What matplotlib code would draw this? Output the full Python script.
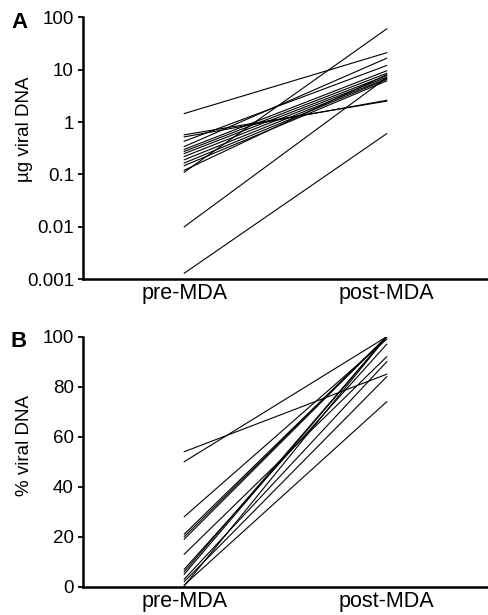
import matplotlib.pyplot as plt

plt.rcParams['font.family'] = ['Liberation Sans', 'DejaVu Sans']

groups = ['pre-MDA', 'post-MDA']

# panel A: ug viral DNA, pre and post, one pair per sample
ug_pre = [1.45, 0.57, 0.52, 0.43, 0.34, 0.30, 0.275, 0.25, 0.22, 0.19,
          0.165, 0.147, 0.12, 0.11, 0.01, 0.0013]
ug_post = [21, 2.5, 2.6, 12, 16.5, 9.5, 8.5, 7.7, 7.2, 6.8,
           6.5, 6.1, 8.0, 60, 7.0, 0.6]
ug_ticks = [0.001, 0.01, 0.1, 1, 10, 100]
ug_labels = ['0.001', '0.01', '0.1', '1', '10', '100']

# panel B: % viral DNA
pct_pre = [54, 50, 28, 21, 20, 19, 13, 7, 6, 5, 3, 2, 0.7, 0.3]
pct_post = [85, 100, 99, 100, 100, 100, 92, 97, 100, 100, 90, 84, 74, 100]
pct_ticks = [0, 20, 40, 60, 80, 100]

fig = plt.figure(figsize=(4.88, 6.15), dpi=100)
axA = fig.add_axes([0.170, 0.546, 0.83, 0.426])
axB = fig.add_axes([0.170, 0.046, 0.83, 0.4065])


def style(ax):
    for s in ['top', 'right']:
        ax.spines[s].set_visible(False)
    for s in ['left', 'bottom']:
        ax.spines[s].set_linewidth(1.8)
    ax.set_xlim(-0.5, 1.5)
    ax.set_xticks([0, 1])
    ax.set_xticklabels(groups, fontsize=15.5)
    ax.tick_params(axis='x', length=0, pad=3)
    ax.tick_params(axis='y', length=3.5, width=1.3, labelsize=13.5, pad=3)


for a, b in zip(ug_pre, ug_post):
    axA.plot([0, 1], [a, b], color='black', lw=0.8)
axA.set_yscale('log')
axA.set_ylim(0.001, 100)
axA.set_yticks(ug_ticks)
axA.set_yticklabels(ug_labels)
axA.minorticks_off()
style(axA)
axA.set_ylabel('µg viral DNA', fontsize=13.5)
axA.yaxis.set_label_coords(-0.123, 0.574)

for a, b in zip(pct_pre, pct_post):
    axB.plot([0, 1], [a, b], color='black', lw=0.8)
axB.set_ylim(0, 100)
axB.set_yticks(pct_ticks)
style(axB)
axB.set_ylabel('% viral DNA', fontsize=13.5)
axB.yaxis.set_label_coords(-0.123, 0.564)

fig.text(0.039, 0.964, 'A', fontsize=16, fontweight='bold', ha='center', va='center')
fig.text(0.039, 0.444, 'B', fontsize=16, fontweight='bold', ha='center', va='center')

fig.savefig('out.png', dpi=100)
